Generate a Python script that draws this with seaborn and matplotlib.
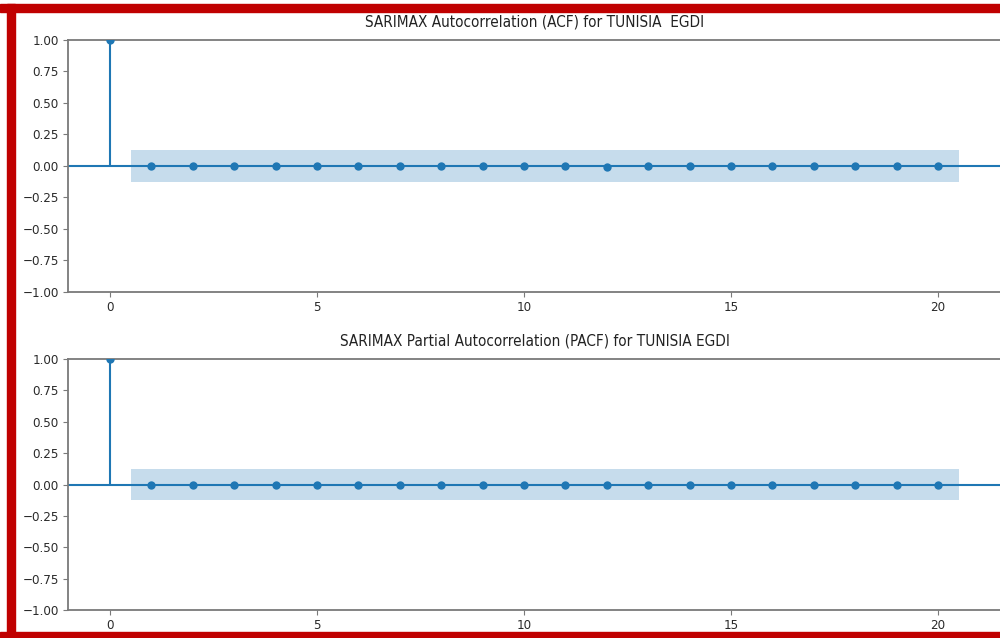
import numpy as np
import pandas as pd
import seaborn as sns
import matplotlib
matplotlib.use("Agg")
import matplotlib.pyplot as plt
from matplotlib.patches import Rectangle

# ---- data ----
lags = list(range(0, 21))
acf_values = [1.0, 0.0, 0.0, 0.0, 0.0, 0.0, 0.0, 0.0, 0.0, 0.0, 0.0,
              0.0, -0.008, 0.0, 0.0, 0.0, 0.0, 0.0, 0.0, 0.0, 0.0]
pacf_values = [1.0, 0.0, 0.0, 0.0, 0.0, 0.0, 0.0, 0.0, 0.0, 0.0, 0.0,
               0.0, 0.0, 0.0, 0.0, 0.0, 0.0, 0.0, 0.0, 0.0, 0.0]
conf_band = 0.125
titles = ["SARIMAX Autocorrelation (ACF) for TUNISIA  EGDI",
          "SARIMAX Partial Autocorrelation (PACF) for TUNISIA EGDI"]
yticks = [-1.0, -0.75, -0.5, -0.25, 0.0, 0.25, 0.5, 0.75, 1.0]
xticks = [0, 5, 10, 15, 20]

sns.set_theme(style="white")
plt.rcParams["font.family"] = ["DejaVu Sans"]
plt.rcParams["font.stretch"] = "condensed"

W, H = 1000, 638
fig = plt.figure(figsize=(W / 100, H / 100), dpi=100)

C0 = "#1f77b4"
spine_col = "#7a7a7a"

def px_rect(left, top, right, bottom):
    return [left / W, 1 - bottom / H, (right - left) / W, (bottom - top) / H]

boxes = [px_rect(68, 40, 1002, 292), px_rect(68, 359, 1002, 610)]
px_per_lag = (938 - 110) / 20.0
x_lo = (68 - 110) / px_per_lag
x_hi = (1002 - 110) / px_per_lag

for box, vals, title in zip(boxes, [acf_values, pacf_values], titles):
    ax = fig.add_axes(box)
    df = pd.DataFrame({"lag": lags, "value": vals})
    band_x = [l for l in lags[1:]]
    band_x = [band_x[0] - 0.5] + band_x + [band_x[-1] + 0.5]
    ax.fill_between(band_x, [-conf_band] * len(band_x), [conf_band] * len(band_x),
                    color=C0, alpha=0.25, linewidth=0)
    ax.axhline(0, color=C0, linewidth=1.5, zorder=2)
    ax.vlines(df["lag"], 0, df["value"], color=C0, linewidth=1.5, zorder=2)
    sns.scatterplot(data=df, x="lag", y="value", ax=ax, color=C0, s=36,
                    edgecolor=C0, linewidth=0, zorder=3, legend=False)
    ax.set_xlim(x_lo, x_hi)
    ax.set_ylim(-1, 1)
    ax.set_yticks(yticks)
    ax.set_yticklabels([f"{t:.2f}".replace("-", "\u2212") for t in yticks])
    ax.set_xticks(xticks)
    ax.set_xlabel("")
    ax.set_ylabel("")
    ax.set_title(title, fontsize=11, color="#222222", pad=10)
    for s in ["left", "top", "bottom"]:
        ax.spines[s].set_color(spine_col)
        ax.spines[s].set_linewidth(1.3)
    ax.spines["right"].set_visible(False)
    ax.tick_params(axis="both", which="both", length=3.5, width=0.8,
                   color=spine_col, labelsize=9.5, labelcolor="#2a2a2a",
                   left=True, bottom=True, pad=3)

red = "#c00000"
fig.patches.append(Rectangle((0, 1 - 12 / H), 1, 8 / H, transform=fig.transFigure,
                             color=red, zorder=10))
fig.patches.append(Rectangle((7 / W, 0), 8 / W, 1 - 4 / H, transform=fig.transFigure,
                             color=red, zorder=10))
fig.patches.append(Rectangle((0, 0), 1, 6 / H, transform=fig.transFigure,
                             color=red, zorder=10))

fig.savefig("out.png", dpi=100)
